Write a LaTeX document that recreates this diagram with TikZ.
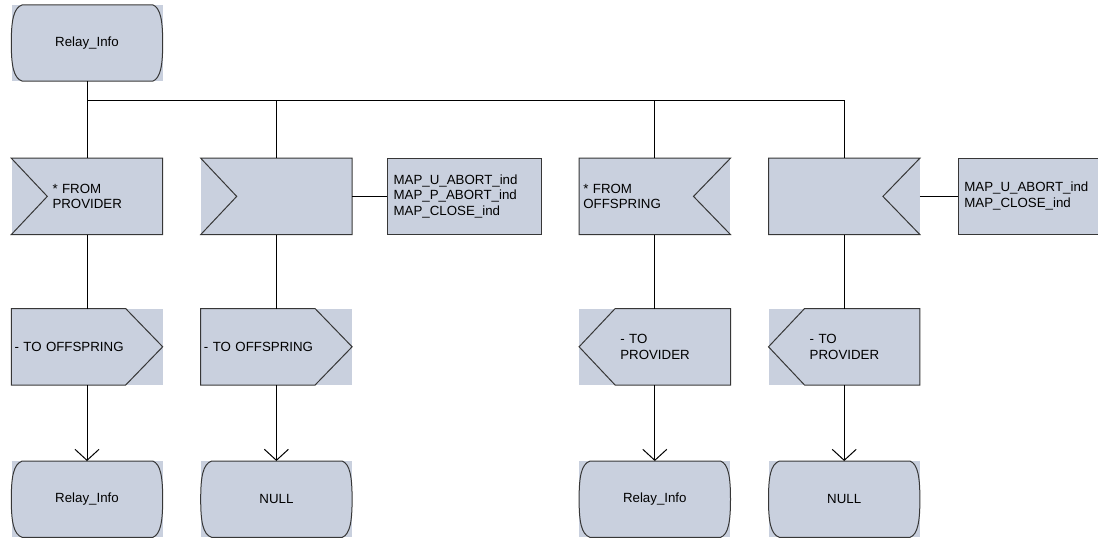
\documentclass[tikz,border=0pt]{standalone}
\usepackage{fontspec}
\setmainfont{Liberation Sans}
\usetikzlibrary{positioning}
\usetikzlibrary{arrows.meta}
\usetikzlibrary{calc}
\definecolor{sdlfill}{RGB}{201,208,222}
\definecolor{sdlline}{RGB}{55,55,55}

\begin{document}
\begin{tikzpicture}[
    x=1pt, y=-1pt,
    font=\fontsize{13.3}{15.5}\selectfont,
    box/.style={rectangle, fill=sdlfill, minimum width=151pt, minimum height=76pt, inner sep=0pt},
    state/.style={box, align=center},
    lbox/.style={box, align=left, inner xsep=41pt, text width=69pt},
    tbox/.style={box, align=left, inner xsep=4pt, text width=143pt},
    sigbox/.style={box, minimum width=154pt, align=left, inner xsep=6pt, text width=142pt, draw=sdlline, line width=1pt},
    outl/.style={draw=sdlline, line width=1pt, line join=miter},
    conn/.style={draw=black, line width=1pt},
    arr/.style={conn, -{Straight Barb[length=11pt,width=24pt]}}
]
\useasboundingbox (0,0) rectangle (1098,538);

\node[state] (top) at (87,43) {Relay\_Info};

% inputs
\node[lbox, below=77pt of top] (in1) {* FROM\\PROVIDER};
\node[box, right=38pt of in1] (in2) {};
\node[sigbox, right=35pt of in2] (sig1) {MAP\_U\_ABORT\_ind\\MAP\_P\_ABORT\_ind\\MAP\_CLOSE\_ind};
\node[tbox, right=37pt of sig1] (in3) {* FROM\\OFFSPRING};
\node[box, right=38pt of in3] (in4) {};
\node[sigbox, text depth=19pt, right=38pt of in4] (sig2) {MAP\_U\_ABORT\_ind\\MAP\_CLOSE\_ind};

% outputs
\node[tbox, inner xsep=3pt, text width=145pt, below=74pt of in1] (out1) {- TO OFFSPRING};
\node[tbox, inner xsep=3pt, text width=145pt, below=74pt of in2] (out2) {- TO OFFSPRING};
\node[lbox, below=74pt of in3] (out3) {- TO\\PROVIDER};
\node[lbox, below=74pt of in4] (out4) {- TO\\PROVIDER};

% next states
\node[state, below=76pt of out1] (nx1) {Relay\_Info};
\node[state, below=76pt of out2] (nx2) {NULL};
\node[state, below=76pt of out3] (nx3) {Relay\_Info};
\node[state, below=76pt of out4] (nx4) {NULL};

% outlines
\foreach \n in {top,nx1,nx2,nx3,nx4}
  \draw[outl] ($(\n.north west)+(11,0)$) -- ($(\n.north east)+(-10,0)$)
    .. controls ($(\n.north east)+(-2,3)$) and ($(\n.east)+(0,-22)$) .. (\n.east)
    .. controls ($(\n.east)+(0,22)$) and ($(\n.south east)+(-2,-3)$) .. ($(\n.south east)+(-10,0)$)
    -- ($(\n.south west)+(11,0)$)
    .. controls ($(\n.south west)+(2,-3)$) and ($(\n.west)+(0,22)$) .. (\n.west)
    .. controls ($(\n.west)+(0,-22)$) and ($(\n.north west)+(2,3)$) .. cycle;
\foreach \n in {in1,in2}
  \draw[outl] (\n.north west) -- (\n.north east) -- (\n.south east) -- (\n.south west) -- ($(\n.west)+(36,0)$) -- cycle;
\foreach \n in {in3,in4}
  \draw[outl] (\n.north east) -- (\n.north west) -- (\n.south west) -- (\n.south east) -- ($(\n.east)+(-37,0)$) -- cycle;
\foreach \n in {out1,out2}
  \draw[outl] (\n.north west) -- ($(\n.north east)+(-37,0)$) -- (\n.east) -- ($(\n.south east)+(-37,0)$) -- (\n.south west) -- cycle;
\foreach \n in {out3,out4}
  \draw[outl] (\n.north east) -- ($(\n.north west)+(36,0)$) -- (\n.west) -- ($(\n.south west)+(36,0)$) -- (\n.south east) -- cycle;

% connectors
\coordinate (bus) at ($(top.south)+(0,19)$);
\draw[conn] (top) -- (bus);
\foreach \n in {in1,in2,in3,in4}
  \draw[conn] (bus) -| (\n.north);
\foreach \k in {1,...,4} {
  \draw[conn] (in\k) -- (out\k);
  \draw[arr] (out\k) -- (nx\k);
}
\draw[conn] (in2) -- (sig1);
\draw[conn] (in4) -- (sig2);

\end{tikzpicture}
\end{document}
